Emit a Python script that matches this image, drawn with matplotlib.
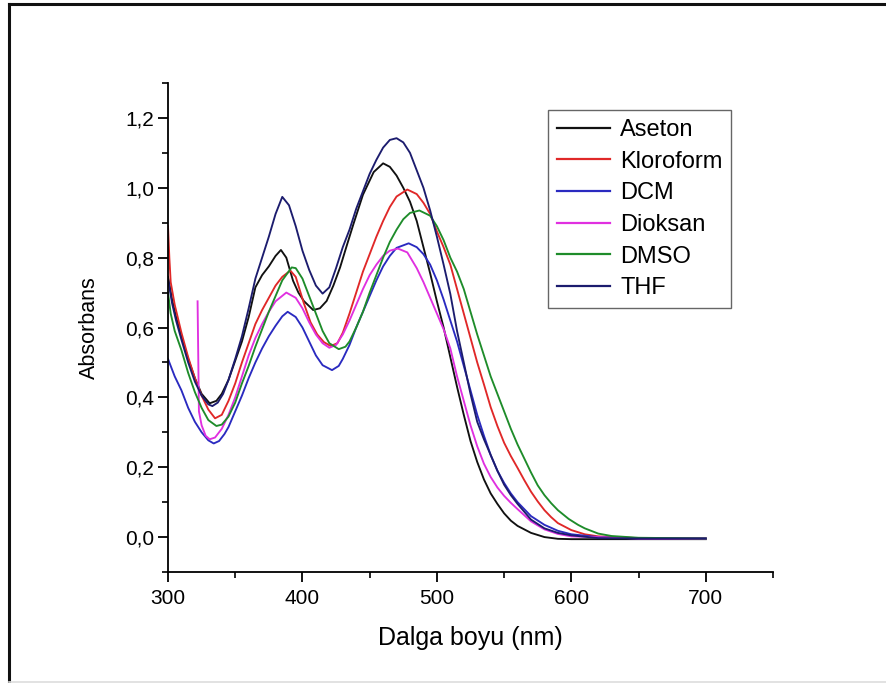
import matplotlib
matplotlib.use("Agg")
import matplotlib.pyplot as plt
from matplotlib.ticker import MultipleLocator, FixedLocator, FixedFormatter
from matplotlib.lines import Line2D

plt.rcParams['font.family'] = ['Liberation Sans', 'DejaVu Sans']

# ---------------- data ----------------
series_names = ["Aseton", "Kloroform", "DCM", "Dioksan", "DMSO", "THF"]
series_colors = ["#111111", "#e02828", "#2a2ac0", "#e030e0", "#1e8c2a", "#1c1c6e"]

wl_aseton = [300, 303, 306, 310, 315, 320, 325, 331, 336, 340, 345, 350, 355, 360, 365, 370, 375, 380,
             384, 388, 393, 397, 401, 408, 413, 418, 423, 428, 433, 438, 445, 453, 460, 465, 470, 475,
             480, 485, 490, 495, 500, 505, 510, 515, 520, 525, 530, 535, 540, 545, 550, 555, 560, 570,
             580, 590, 600, 650, 700]
abs_aseton = [0.745, 0.68, 0.63, 0.575, 0.51, 0.455, 0.41, 0.383, 0.39, 0.41, 0.45, 0.505, 0.56, 0.63,
              0.715, 0.75, 0.775, 0.805, 0.822, 0.80, 0.734, 0.70, 0.676, 0.65, 0.655, 0.676, 0.72,
              0.772, 0.835, 0.897, 0.98, 1.045, 1.07, 1.06, 1.035, 1.0, 0.96, 0.905, 0.83, 0.755,
              0.675, 0.60, 0.515, 0.43, 0.35, 0.275, 0.215, 0.165, 0.125, 0.095, 0.068, 0.047, 0.032,
              0.012, 0.0, -0.005, -0.006, -0.006, -0.006]

wl_kloroform = [300, 301, 302, 305, 310, 315, 320, 325, 330, 335, 340, 345, 350, 355, 360, 365, 370,
                375, 380, 385, 391, 395, 401, 406, 411, 416, 421, 426, 430, 435, 440, 445, 450, 455,
                460, 465, 470, 478, 485, 490, 495, 500, 505, 510, 515, 520, 525, 530, 535, 540, 545,
                550, 555, 560, 565, 570, 575, 580, 585, 590, 600, 610, 620, 650, 700]
abs_kloroform = [0.89, 0.80, 0.73, 0.665, 0.585, 0.515, 0.455, 0.405, 0.365, 0.34, 0.35, 0.39, 0.44,
                 0.50, 0.555, 0.61, 0.65, 0.685, 0.72, 0.745, 0.763, 0.745, 0.67, 0.615, 0.58, 0.558,
                 0.547, 0.555, 0.585, 0.64, 0.70, 0.76, 0.81, 0.86, 0.905, 0.945, 0.975, 0.995, 0.982,
                 0.957, 0.925, 0.875, 0.83, 0.78, 0.71, 0.64, 0.57, 0.50, 0.437, 0.372, 0.318, 0.27,
                 0.232, 0.198, 0.163, 0.13, 0.102, 0.077, 0.057, 0.04, 0.02, 0.008, 0.002, -0.003, -0.004]

wl_dcm = [300, 305, 310, 315, 320, 325, 330, 334, 338, 342, 345, 350, 355, 360, 365, 370, 375, 380,
          385, 389, 395, 400, 405, 410, 415, 422, 427, 430, 435, 440, 445, 450, 455, 460, 465, 470,
          479, 485, 490, 495, 500, 505, 510, 515, 520, 525, 530, 535, 540, 545, 550, 555, 560, 570,
          580, 590, 600, 620, 650, 700]
abs_dcm = [0.51, 0.46, 0.42, 0.37, 0.33, 0.30, 0.277, 0.268, 0.275, 0.295, 0.315, 0.36, 0.405, 0.455,
           0.50, 0.54, 0.575, 0.605, 0.632, 0.645, 0.63, 0.60, 0.56, 0.52, 0.492, 0.478, 0.49, 0.51,
           0.55, 0.60, 0.645, 0.69, 0.735, 0.775, 0.805, 0.828, 0.841, 0.83, 0.81, 0.78, 0.735, 0.68,
           0.62, 0.56, 0.49, 0.42, 0.35, 0.29, 0.235, 0.19, 0.155, 0.125, 0.10, 0.06, 0.035, 0.018,
           0.008, 0.0, -0.004, -0.004]

wl_dioksan = [322, 323, 325, 328, 331, 335, 340, 345, 350, 355, 360, 365, 370, 375, 380, 388, 395,
              400, 405, 410, 415, 420, 425, 430, 435, 440, 445, 450, 455, 460, 465, 471, 478, 485,
              490, 495, 500, 505, 510, 515, 520, 525, 530, 535, 540, 545, 550, 555, 560, 570, 580,
              590, 600, 650, 700]
abs_dioksan = [0.675, 0.36, 0.32, 0.29, 0.28, 0.285, 0.31, 0.35, 0.40, 0.46, 0.52, 0.57, 0.61, 0.645,
               0.675, 0.70, 0.685, 0.655, 0.615, 0.58, 0.555, 0.542, 0.55, 0.58, 0.62, 0.665, 0.71,
               0.75, 0.78, 0.805, 0.82, 0.826, 0.815, 0.77, 0.73, 0.685, 0.64, 0.595, 0.54, 0.46,
               0.39, 0.32, 0.26, 0.21, 0.172, 0.142, 0.118, 0.098, 0.08, 0.045, 0.022, 0.009, 0.002,
               -0.004, -0.004]

wl_dmso = [300, 302, 305, 310, 315, 320, 325, 330, 336, 340, 345, 350, 355, 360, 365, 370, 375, 380,
           385, 392, 395, 400, 405, 410, 415, 420, 427, 432, 435, 440, 445, 450, 455, 460, 465, 470,
           475, 480, 487, 495, 500, 505, 510, 515, 520, 525, 530, 535, 540, 545, 550, 555, 560, 565,
           570, 575, 580, 585, 590, 598, 605, 610, 620, 630, 650, 700]
abs_dmso = [0.70, 0.64, 0.59, 0.535, 0.47, 0.415, 0.37, 0.335, 0.318, 0.322, 0.345, 0.385, 0.44, 0.49,
            0.545, 0.595, 0.645, 0.69, 0.735, 0.772, 0.77, 0.74, 0.69, 0.64, 0.59, 0.555, 0.538,
            0.545, 0.56, 0.60, 0.645, 0.70, 0.75, 0.80, 0.845, 0.88, 0.91, 0.928, 0.935, 0.92, 0.89,
            0.85, 0.80, 0.76, 0.71, 0.645, 0.58, 0.52, 0.46, 0.41, 0.36, 0.31, 0.265, 0.225, 0.185,
            0.148, 0.12, 0.097, 0.077, 0.052, 0.035, 0.025, 0.01, 0.003, -0.002, -0.004]

wl_thf = [300, 303, 306, 310, 315, 320, 325, 330, 333, 337, 341, 345, 350, 355, 360, 365, 370, 375,
          380, 385, 390, 395, 400, 405, 410, 415, 420, 425, 430, 435, 440, 445, 450, 455, 460, 465,
          470, 475, 480, 485, 490, 495, 500, 505, 510, 515, 520, 525, 530, 535, 540, 545, 550, 555,
          560, 570, 580, 590, 600, 620, 650, 700]
abs_thf = [0.74, 0.67, 0.62, 0.565, 0.50, 0.445, 0.405, 0.38, 0.375, 0.385, 0.41, 0.45, 0.51, 0.575,
           0.655, 0.74, 0.80, 0.86, 0.925, 0.974, 0.95, 0.89, 0.82, 0.765, 0.72, 0.697, 0.715, 0.77,
           0.83, 0.88, 0.94, 0.99, 1.04, 1.08, 1.115, 1.137, 1.142, 1.13, 1.10, 1.05, 1.0, 0.935,
           0.86, 0.78, 0.696, 0.59, 0.50, 0.41, 0.33, 0.28, 0.235, 0.19, 0.15, 0.12, 0.095, 0.05,
           0.025, 0.012, 0.005, -0.003, -0.004, -0.004]

xtick_values = [300, 400, 500, 600, 700]
xtick_labels = ["300", "400", "500", "600", "700"]
ytick_values = [0.0, 0.2, 0.4, 0.6, 0.8, 1.0, 1.2]
ytick_labels = ["0,0", "0,2", "0,4", "0,6", "0,8", "1,0", "1,2"]
x_label = "Dalga boyu (nm)"
y_label = "Absorbans"

series_x = [wl_aseton, wl_kloroform, wl_dcm, wl_dioksan, wl_dmso, wl_thf]
series_y = [abs_aseton, abs_kloroform, abs_dcm, abs_dioksan, abs_dmso, abs_thf]

# ---------------- figure ----------------
W, H = 886, 683
fig = plt.figure(figsize=(W / 100, H / 100), dpi=100)
fig.patch.set_facecolor("white")

ax = fig.add_axes([168 / W, 111 / H, 605 / W, 489 / H])

for name, xs, ys, c in zip(series_names, series_x, series_y, series_colors):
    ax.plot(xs, ys, color=c, lw=1.35, label=name, solid_joinstyle="round")

ax.set_xlim(300, 750)
ax.set_ylim(-0.1, 1.3)

for s in ["top", "right"]:
    ax.spines[s].set_visible(False)
for s in ["left", "bottom"]:
    ax.spines[s].set_linewidth(1.3)

ax.xaxis.set_major_locator(FixedLocator(xtick_values))
ax.xaxis.set_major_formatter(FixedFormatter(xtick_labels))
ax.xaxis.set_minor_locator(MultipleLocator(50))
ax.yaxis.set_major_locator(FixedLocator(ytick_values))
ax.yaxis.set_major_formatter(FixedFormatter(ytick_labels))
ax.yaxis.set_minor_locator(MultipleLocator(0.1))

ax.tick_params(which="major", direction="out", length=7, width=1.3, labelsize=15, pad=3)
ax.tick_params(which="minor", direction="out", length=4, width=1.2)
ax.tick_params(axis="x", which="major", pad=5)

ax.set_xlabel(x_label, fontsize=18, labelpad=13)
ax.set_ylabel(y_label, fontsize=15.5, labelpad=18)

leg = ax.legend(loc="upper left", bbox_to_anchor=(548 / W, 1 - 110 / H),
                bbox_transform=fig.transFigure, fontsize=17, frameon=True,
                fancybox=False, edgecolor="#666666", framealpha=1,
                handlelength=2.25, handletextpad=0.42, labelspacing=0.41,
                borderpad=0.38, borderaxespad=0)
leg.get_frame().set_linewidth(1.0)
for ln in leg.get_lines():
    ln.set_linewidth(1.6)

# outer picture frame (left and top edges dark, bottom light)
fig.add_artist(Line2D([8.5 / W, 8.5 / W], [0, 1 - 4 / H], transform=fig.transFigure,
                      color="#111111", lw=2.2))
fig.add_artist(Line2D([8.5 / W, 1], [1 - 4 / H, 1 - 4 / H], transform=fig.transFigure,
                      color="#111111", lw=2.2))
fig.add_artist(Line2D([8.5 / W, 1], [0.8 / H, 0.8 / H], transform=fig.transFigure,
                      color="#dddddd", lw=1.2))

fig.savefig("out.png", dpi=100, facecolor="white")
